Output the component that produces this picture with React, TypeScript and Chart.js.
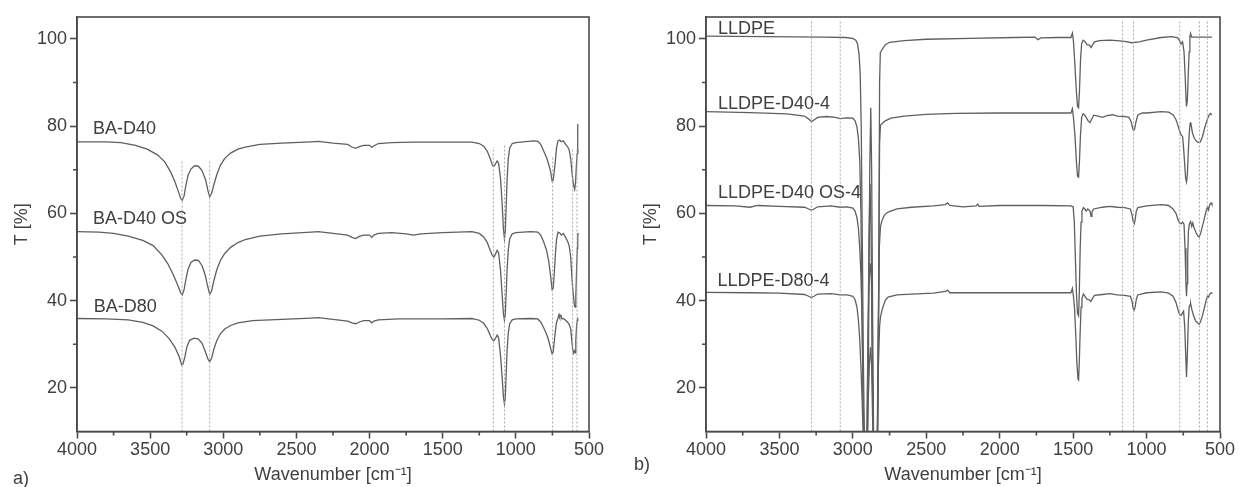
import React, { useEffect, useRef } from 'react';
import { Chart, registerables } from 'chart.js';

Chart.register(...registerables);

type Pt = [number, number];

// ---------- Panel a) ----------
const BA_D40: Pt[] = [[4000,76.4],[3800,76.4],[3700,76.2],[3600,75.6],[3520,74.7],[3450,73.4],[3400,71.8],[3360,69.5],[3330,67.2],[3305,64.8],[3290,63.3],[3280,63.0],[3268,64],[3255,66.5],[3240,68.8],[3220,70.2],[3195,70.9],[3170,70.8],[3145,69.8],[3120,67.6],[3105,65.2],[3093,63.8],[3080,64.6],[3065,66.5],[3045,68.8],[3020,71],[2990,72.6],[2950,73.8],[2900,74.7],[2850,75.2],[2750,75.8],[2600,76.1],[2400,76.4],[2350,76.5],[2250,76.1],[2150,75.8],[2120,75.2],[2095,74.9],[2070,75.3],[2040,75.6],[2000,75.6],[1985,75.1],[1970,75.5],[1940,76],[1850,76.2],[1700,76.3],[1500,76.3],[1300,76.3],[1250,76],[1220,75.4],[1195,74.2],[1175,72.5],[1160,71],[1150,70.8],[1140,71.3],[1128,72],[1118,71.5],[1105,68],[1095,63],[1085,56.5],[1078,54.2],[1072,56],[1066,62],[1060,67.5],[1052,72.5],[1042,75],[1025,76],[1000,76.2],[950,76.4],[880,76.6],[850,76.5],[830,75.8],[810,74.3],[790,72.8],[775,71.2],[762,69.5],[752,67.4],[745,67.6],[738,69.5],[730,72],[722,75],[712,76.6],[700,76.8],[690,76.4],[675,76.6],[660,75.8],[645,75.2],[635,74.5],[625,72.5],[615,69],[606,66.5],[598,65.5],[592,67],[586,71],[581,73.7],[578,80.5],[576,74],[574,74.5]];
const BA_D40_OS: Pt[] = [[4000,55.8],[3850,55.7],[3750,55.4],[3650,54.8],[3550,53.8],[3480,52.6],[3420,50.5],[3380,48.5],[3340,45.8],[3310,43.4],[3290,41.7],[3280,41.3],[3268,42.5],[3255,45],[3240,47.3],[3220,48.8],[3195,49.3],[3170,49.2],[3145,48],[3125,46],[3108,43.5],[3093,41.4],[3080,42.2],[3065,44.5],[3045,47],[3020,49.2],[2990,50.8],[2950,52.2],[2900,53.3],[2850,54],[2750,54.8],[2600,55.3],[2400,55.7],[2350,55.8],[2250,55.4],[2150,55.0],[2120,54.5],[2095,54.2],[2070,54.7],[2040,55],[2000,55],[1985,54.5],[1970,55],[1940,55.4],[1850,55.6],[1750,55.3],[1700,55.0],[1650,55.3],[1500,55.6],[1300,55.8],[1250,55.4],[1220,54.6],[1195,53.3],[1175,51.5],[1160,50.3],[1150,50],[1140,50.6],[1128,51.5],[1118,51],[1105,47],[1095,42],[1085,37],[1078,35.5],[1072,37],[1066,42],[1060,47],[1052,51.5],[1042,54.2],[1025,55.3],[1000,55.6],[900,55.8],[850,55.7],[830,55],[810,53.5],[790,51.5],[775,49],[762,45.5],[752,42.5],[745,42.8],[738,46],[730,50.5],[722,54],[712,55.7],[700,55.5],[690,55],[675,55.4],[660,54.5],[645,53.5],[635,52.5],[625,50],[618,46],[612,43],[606,41],[600,39],[595,38.5],[590,41],[585,47],[580,52],[577,55.5],[574,55]];
const BA_D80: Pt[] = [[4000,35.9],[3800,35.8],[3650,35.6],[3550,35.0],[3480,34.2],[3420,33],[3370,31.3],[3330,29.3],[3300,27],[3285,25.3],[3275,25.5],[3262,27.2],[3248,29.5],[3230,30.9],[3200,31.4],[3170,31.2],[3145,30.2],[3125,28.5],[3105,26.6],[3093,26],[3080,26.8],[3065,28.8],[3045,30.8],[3020,32.4],[2990,33.5],[2950,34.3],[2900,34.9],[2800,35.4],[2600,35.7],[2400,36],[2350,36.1],[2250,35.7],[2150,35.3],[2120,34.9],[2095,34.7],[2070,35.1],[2040,35.4],[2000,35.4],[1985,34.9],[1970,35.3],[1940,35.6],[1800,35.8],[1500,35.8],[1300,35.9],[1250,35.5],[1220,34.8],[1195,33.6],[1175,32],[1160,31],[1150,30.8],[1140,31.3],[1128,32.1],[1118,31.5],[1105,27.5],[1095,23],[1085,18],[1078,16.3],[1072,18],[1066,23.5],[1060,28.5],[1052,32.5],[1042,34.7],[1025,35.6],[1000,35.8],[900,35.9],[850,35.8],[830,35.1],[810,33.8],[790,32.3],[775,30.8],[762,29],[752,27.8],[745,28.2],[738,30.5],[730,33],[722,35],[712,36],[705,36.8],[700,36.2],[692,36.6],[685,35.8],[675,35.9],[660,35.5],[645,35],[635,34.5],[625,33.5],[618,31],[612,29],[606,28],[600,28.5],[595,28],[590,31],[585,34],[580,35.5],[577,35.8],[574,35.6]];

const A_SERIES = [BA_D40, BA_D40_OS, BA_D80];
const A_LABELS = ['BA-D40', 'BA-D40 OS', 'BA-D80'];
const A_LABEL_WN = [3890, 3890, 3885];
const A_LABEL_T = [79.4, 58.7, 38.6];
const A_MARK_WN = [3282, 3093, 1154, 1078, 749, 612, 582];
const A_MARK_TOP = [72.2, 72.2, 75.2, 75.6, 73, 75, 75];

// ---------- Panel b) ----------
const LLDPE: Pt[] = [[4000,100.6],[3600,100.5],[3200,100.4],[3050,100.3],[3000,100.1],[2980,99.7],[2968,98.8],[2958,96.5],[2950,92],[2943,80],[2936,55],[2928,25],[2920,5],[2900,5],[2893,30],[2885,70],[2878,84.2],[2872,70],[2865,35],[2858,5],[2832,5],[2824,40],[2818,90],[2813,96.8],[2800,97.6],[2780,98.6],[2750,99.2],[2650,99.6],[2500,99.9],[2200,100.1],[1900,100.3],[1760,100.4],[1740,99.8],[1720,100.2],[1600,100.3],[1515,100.3],[1505,101.3],[1498,99.5],[1488,94],[1478,88],[1470,84.5],[1463,84.2],[1457,88],[1450,95],[1442,99],[1432,99.7],[1420,99.4],[1405,98.6],[1390,98.6],[1378,98],[1368,98.6],[1355,99.3],[1320,99.6],[1250,99.7],[1200,99.6],[1150,99.4],[1100,99.1],[1050,99.3],[1000,99.7],[900,100.3],[830,100.5],[790,100.3],[775,99.6],[765,98.8],[755,99.3],[745,97],[738,92],[731,86],[728,84.5],[722,86],[716,92],[710,97],[705,100.5],[700,101.2],[694,100.4],[650,100.4],[555,100.4]];
const LLDPE_D40_4: Pt[] = [[4000,83.3],[3700,83.1],[3450,82.8],[3330,82.3],[3300,81.6],[3282,81.0],[3265,81.4],[3240,82],[3180,82.2],[3120,82],[3086,81.7],[3040,81.9],[3000,81.8],[2985,81.2],[2972,79.8],[2962,77],[2953,72],[2945,60],[2937,35],[2928,12],[2920,5],[2905,5],[2897,30],[2890,55],[2883,66.8],[2876,55],[2868,25],[2860,5],[2833,5],[2825,40],[2818,76],[2812,80.2],[2800,80.6],[2780,81.2],[2740,81.8],[2650,82.3],[2500,82.7],[2300,82.9],[2000,83],[1600,83],[1515,83],[1505,84],[1498,82],[1488,78],[1478,72],[1470,68.5],[1463,68.3],[1457,72],[1450,78],[1442,82],[1432,82.8],[1420,82.5],[1400,81.3],[1385,80.8],[1375,81.5],[1360,82.5],[1330,82.3],[1300,82],[1270,82.4],[1230,82.6],[1200,82.3],[1150,82.2],[1120,82],[1105,81],[1095,79.5],[1088,79],[1080,79.5],[1072,81],[1060,82.5],[1030,83],[1000,83],[900,83.3],[850,83.2],[820,82.6],[800,81.5],[785,80],[775,78.8],[765,78],[755,77.6],[748,75],[740,71],[734,68],[728,67.2],[722,69],[716,74],[710,78],[704,80.5],[700,80.9],[695,80],[688,78.5],[675,77.2],[660,76.5],[645,76.2],[635,76.3],[620,77.5],[605,79.5],[590,81.2],[575,82.5],[565,82.9],[555,82.5]];
const LLDPE_D40_OS_4: Pt[] = [[4000,61.8],[3800,61.7],[3700,61.4],[3650,61.8],[3500,61.6],[3330,61.4],[3300,61],[3282,60.7],[3265,61],[3240,61.5],[3150,61.7],[3086,61.4],[3040,61.5],[3000,61.2],[2985,60.5],[2972,59],[2962,56.5],[2953,52],[2945,46],[2937,35],[2928,15],[2920,5],[2905,5],[2898,30],[2890,45],[2880,48.5],[2872,44],[2865,20],[2858,5],[2835,5],[2828,30],[2820,52],[2812,57],[2800,58.5],[2785,59.6],[2760,60.3],[2700,61],[2600,61.4],[2450,61.7],[2370,62],[2355,62.4],[2340,61.8],[2250,61.5],[2160,61.7],[2150,62.1],[2140,61.6],[2000,61.8],[1700,61.8],[1515,61.7],[1500,61.5],[1492,58],[1485,50],[1478,42],[1470,37],[1463,36.5],[1458,42],[1452,52],[1446,58],[1440,60.5],[1430,61.3],[1420,61],[1412,60.5],[1400,61],[1385,60.5],[1378,59.3],[1372,60.3],[1360,61],[1300,61.4],[1250,61.6],[1200,61.4],[1150,61.3],[1110,61],[1098,59.5],[1090,58],[1084,57.6],[1078,58.5],[1070,60.5],[1060,61.3],[1000,61.7],[900,62],[850,61.8],[820,61],[800,60],[785,58.5],[775,57.8],[765,57.6],[755,58],[745,57.5],[738,52],[732,44],[728,41],[724,44],[720,50],[715,56],[708,57.6],[700,58.1],[692,57],[685,57.8],[675,56.5],[662,55.5],[650,54.8],[642,54.6],[632,55.4],[620,57],[605,59],[595,60.5],[585,61.5],[578,60.8],[570,62],[560,62.4],[555,62]];
const LLDPE_D80_4: Pt[] = [[4000,41.9],[3700,41.8],[3500,41.7],[3330,41.4],[3300,41],[3282,40.7],[3265,41],[3240,41.5],[3150,41.6],[3086,41.3],[3040,41.3],[3000,41],[2985,40.2],[2972,38.5],[2962,35.5],[2953,31],[2945,25],[2935,15],[2925,5],[2905,5],[2897,15],[2888,25],[2880,29.3],[2872,25],[2865,12],[2858,5],[2835,5],[2826,25],[2818,34],[2812,36.3],[2800,38],[2780,40],[2760,40.8],[2700,41.3],[2600,41.5],[2450,41.7],[2370,42.1],[2355,42.4],[2340,41.8],[2200,41.8],[2000,41.8],[1700,41.8],[1515,41.8],[1505,42.8],[1498,41],[1490,38],[1482,32],[1475,26],[1467,22],[1463,21.8],[1458,26],[1452,33],[1446,38.5],[1440,40.5],[1430,41.5],[1420,41],[1405,40.3],[1390,40.2],[1380,39.8],[1370,40.4],[1355,41.2],[1300,41.4],[1250,41.6],[1200,41.3],[1150,41.2],[1110,41],[1100,40],[1092,38.3],[1085,37.8],[1078,38.5],[1070,40.3],[1060,41.3],[1000,41.8],[900,42],[850,41.7],[820,41],[800,39.6],[785,37.8],[775,36.8],[765,36.6],[755,37.2],[748,37.6],[740,34],[734,28],[728,22.5],[722,28],[716,35],[710,38.5],[704,39],[700,39.3],[692,38],[680,36.5],[665,35.3],[650,34.8],[642,34.6],[632,35.2],[620,36.5],[605,38.5],[595,40],[585,41],[578,40.8],[570,41.5],[560,41.8],[555,41.7]];

const B_SERIES = [LLDPE, LLDPE_D40_4, LLDPE_D40_OS_4, LLDPE_D80_4];
const B_LABELS = ['LLDPE', 'LLDPE-D40-4', 'LLDPE-D40 OS-4', 'LLDPE-D80-4'];
const B_LABEL_WN = [3919, 3919, 3919, 3922];
const B_LABEL_T = [102.3, 85.1, 64.7, 44.5];
const B_MARK_WN = [3282, 3086, 1164, 1089, 774, 640, 586];
const B_MARK_TOP = [104.3, 104.3, 104.3, 104.3, 104.3, 104.3, 104.3];

// ---------- Axes ----------
const X_TICKS = [4000, 3500, 3000, 2500, 2000, 1500, 1000, 500];
const X_MINOR = [3750, 3250, 2750, 2250, 1750, 1250, 750];
const Y_TICKS = [20, 40, 60, 80, 100];
const Y_MINOR = [30, 50, 70, 90];
const X_MIN = 500, X_MAX = 4000, Y_MIN = 10, Y_MAX = 105;
const X_TITLE = 'Wavenumber [cm\u207B\u00B9]';
const Y_TITLE = 'T [%]';

const FONT = '"Liberation Sans", Arial, sans-serif';
const TEXT = '#404040';
const AXIS = '#4a4a4a';
const LINE = '#5f5f5f';
const MARK = '#a8a8a8';

interface PanelCfg {
  series: Pt[][];
  labels: string[];
  labelWn: number[];
  labelT: number[];
  markWn: number[];
  markTop: number[];
  yWidth: number;
  rightPad: number;
  yTitlePad: number;
}

function makeChart(canvas: HTMLCanvasElement, p: PanelCfg) {
  const datasets: any[] = [];
  p.markWn.forEach((wn, i) => {
    datasets.push({
      data: [{ x: wn, y: Y_MIN }, { x: wn, y: p.markTop[i] }],
      borderColor: MARK, borderWidth: 1, borderDash: [2, 2], pointRadius: 0,
    });
  });
  p.series.forEach((s) => {
    datasets.push({
      data: s.map(([x, y]) => ({ x, y })),
      borderColor: LINE, borderWidth: 1.3, pointRadius: 0, tension: 0,
    });
  });

  const decor = {
    id: 'decor',
    afterDraw(chart: any) {
      const { ctx, chartArea: a, scales } = chart;
      const xs = scales.x, ys = scales.y;
      ctx.save();
      ctx.strokeStyle = AXIS;
      ctx.lineWidth = 1.6;
      ctx.strokeRect(a.left, a.top, a.right - a.left, a.bottom - a.top);
      ctx.beginPath();
      X_MINOR.forEach((v) => {
        const px = xs.getPixelForValue(v);
        ctx.moveTo(px, a.bottom);
        ctx.lineTo(px, a.bottom + 4);
      });
      Y_MINOR.forEach((v) => {
        const py = ys.getPixelForValue(v);
        ctx.moveTo(a.left, py);
        ctx.lineTo(a.left - 4, py);
      });
      ctx.stroke();
      ctx.fillStyle = TEXT;
      ctx.font = `18px ${FONT}`;
      ctx.textBaseline = 'middle';
      ctx.textAlign = 'left';
      p.labels.forEach((t, i) => {
        ctx.fillText(t, xs.getPixelForValue(p.labelWn[i]), ys.getPixelForValue(p.labelT[i]));
      });
      ctx.restore();
    },
  };

  return new Chart(canvas, {
    type: 'line',
    data: { datasets },
    plugins: [decor],
    options: {
      responsive: false,
      animation: false,
      events: [],
      layout: { padding: { left: 0, right: p.rightPad, top: 17, bottom: 0 } },
      plugins: { legend: { display: false }, tooltip: { enabled: false } },
      scales: {
        x: {
          type: 'linear', reverse: true, min: X_MIN, max: X_MAX,
          afterBuildTicks: (s: any) => { s.ticks = X_TICKS.map((v) => ({ value: v })); },
          afterFit: (s: any) => { s.height = 55.5; },
          grid: { display: true, drawOnChartArea: false, drawTicks: true, tickLength: 7, tickWidth: 1.6, tickColor: AXIS },
          border: { display: true, color: AXIS, width: 1.6 },
          ticks: { color: TEXT, font: { family: FONT, size: 18 }, padding: 1, maxRotation: 0, autoSkip: false, callback: (v: any) => String(v) },
          title: { display: true, text: X_TITLE, color: TEXT, font: { family: FONT, size: 18 }, padding: { top: 0, bottom: 1 } },
        },
        y: {
          type: 'linear', min: Y_MIN, max: Y_MAX,
          afterBuildTicks: (s: any) => { s.ticks = Y_TICKS.map((v) => ({ value: v })); },
          afterFit: (s: any) => { s.width = p.yWidth; },
          grid: { display: true, drawOnChartArea: false, drawTicks: true, tickLength: 7, tickWidth: 1.6, tickColor: AXIS },
          border: { display: true, color: AXIS, width: 1.6 },
          ticks: { color: TEXT, font: { family: FONT, size: 18 }, padding: 3, autoSkip: false, callback: (v: any) => String(v) },
          title: { display: true, text: Y_TITLE, color: TEXT, font: { family: FONT, size: 18 }, padding: { top: p.yTitlePad, bottom: 0 } },
        },
      },
    },
  } as any);
}

function Panel({ cfg, width }: { cfg: PanelCfg; width: number }) {
  const ref = useRef<HTMLCanvasElement | null>(null);
  useEffect(() => {
    if (!ref.current) return;
    const c = makeChart(ref.current, cfg);
    return () => c.destroy();
  }, []);
  return <canvas ref={ref} width={width} height={487} style={{ display: 'block', width, height: 487 }} />;
}

const panelA: PanelCfg = {
  series: A_SERIES, labels: A_LABELS, labelWn: A_LABEL_WN, labelT: A_LABEL_T,
  markWn: A_MARK_WN, markTop: A_MARK_TOP, yWidth: 77, rightPad: 31, yTitlePad: 11,
};
const panelB: PanelCfg = {
  series: B_SERIES, labels: B_LABELS, labelWn: B_LABEL_WN, labelT: B_LABEL_T,
  markWn: B_MARK_WN, markTop: B_MARK_TOP, yWidth: 86, rightPad: 19, yTitlePad: 20,
};

export default function App() {
  const lbl: React.CSSProperties = { position: 'absolute', font: `18px ${FONT}`, color: TEXT, lineHeight: '20px' };
  return (
    <div style={{ position: 'absolute', left: 0, top: 0, width: 1239, height: 487, background: '#fff', overflow: 'hidden' }}>
      <div style={{ position: 'absolute', left: 0, top: 0 }}><Panel cfg={panelA} width={620} /></div>
      <div style={{ position: 'absolute', left: 620, top: 0 }}><Panel cfg={panelB} width={619} /></div>
      <div style={{ ...lbl, left: 13, top: 468 }}>a)</div>
      <div style={{ ...lbl, left: 634, top: 454 }}>b)</div>
    </div>
  );
}
